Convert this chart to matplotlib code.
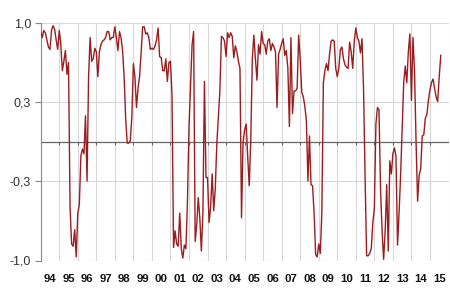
import matplotlib
matplotlib.use("Agg")
import matplotlib.pyplot as plt
import numpy as np

plt.rcParams['font.family'] = ['Liberation Sans', 'DejaVu Sans']

# monthly values, one list per year (Jan..Dec)
y1994 = [0.93, 0.88, 0.94, 0.92, 0.86, 0.80, 0.78, 0.94, 0.98, 0.95, 0.86, 0.78]
y1995 = [0.94, 0.83, 0.60, 0.68, 0.77, 0.57, 0.67, -0.55, -0.86, -0.88, -0.74, -0.97]
y1996 = [-0.60, -0.53, -0.12, -0.06, -0.10, 0.22, -0.33, 0.55, 0.88, 0.68, 0.70, 0.79]
y1997 = [0.76, 0.55, 0.76, 0.82, 0.85, 0.86, 0.88, 0.93, 0.93, 0.86, 0.88, 0.88]
y1998 = [0.97, 0.88, 0.77, 0.93, 0.88, 0.77, 0.55, 0.20, -0.01, -0.01, 0.01, 0.21]
y1999 = [0.66, 0.55, 0.29, 0.45, 0.55, 0.75, 0.97, 0.97, 0.91, 0.92, 0.88, 0.78]
y2000 = [0.79, 0.78, 0.81, 0.86, 0.96, 0.72, 0.71, 0.60, 0.60, 0.70, 0.51, 0.67]
y2001 = [0.68, 0.40, -0.89, -0.75, -0.86, -0.88, -0.60, -0.90, -0.98, -0.87, -0.90, -0.50]
y2002 = [0.12, 0.48, 0.82, 0.93, -0.84, -0.70, -0.47, -0.64, -0.92, -0.60, 0.51, -0.30]
y2003 = [-0.30, -0.68, -0.55, -0.27, -0.58, -0.40, -0.02, 0.20, 0.43, 0.89, 0.88, 0.85]
y2004 = [0.72, 0.92, 0.88, 0.92, 0.89, 0.71, 0.81, 0.76, 0.68, 0.62, -0.64, 0.00]
y2005 = [0.10, 0.15, -0.12, -0.37, 0.02, 0.70, 0.90, 0.70, 0.52, 0.82, 0.74, 0.93]
y2006 = [0.83, 0.82, 0.74, 0.85, 0.87, 0.77, 0.83, 0.80, 0.76, 0.29, 0.74, 0.78]
y2007 = [0.83, 0.87, 0.73, 0.77, 0.62, 0.13, 0.88, 0.24, 0.43, 0.43, 0.45, 0.90]
y2008 = [0.70, 0.42, 0.38, 0.30, 0.18, -0.33, 0.05, -0.36, -0.37, -0.60, -0.95, -0.97]
y2009 = [-0.86, -0.94, -0.60, 0.50, 0.60, 0.66, 0.60, 0.74, 0.85, 0.86, 0.85, 0.62]
y2010 = [0.55, 0.62, 0.78, 0.80, 0.70, 0.65, 0.63, 0.62, 0.84, 0.76, 0.62, 0.85]
y2011 = [0.96, 0.88, 0.85, 0.75, 0.87, 0.45, -0.30, -0.96, -0.96, -0.94, -0.90, -0.68]
y2012 = [-0.56, 0.15, 0.29, 0.27, -0.40, -0.75, -0.99, -0.75, -0.36, -0.92, -0.16, -0.27]
y2013 = [-0.10, -0.05, -0.12, -0.87, -0.60, -0.28, 0.10, 0.50, 0.64, 0.50, 0.76, 0.91]
y2014 = [0.35, 0.88, 0.60, 0.00, -0.50, -0.28, -0.23, 0.05, 0.06, 0.20, 0.23, 0.35]
y2015 = [0.44, 0.50, 0.53, 0.45, 0.38, 0.34, 0.55, 0.73]

years = list(range(1994, 2016))
year_labels = ['94', '95', '96', '97', '98', '99', '00', '01', '02', '03', '04',
               '05', '06', '07', '08', '09', '10', '11', '12', '13', '14', '15']
ytick_vals = [-1.0, -1/3, 1/3, 1.0]
ytick_labels = ['-1,0', '-0,3', '0,3', '1,0']

series = [y1994, y1995, y1996, y1997, y1998, y1999, y2000, y2001, y2002, y2003,
          y2004, y2005, y2006, y2007, y2008, y2009, y2010, y2011, y2012, y2013,
          y2014, y2015]
x, v = [], []
for yr, vals in zip(years, series):
    for i, val in enumerate(vals):
        x.append(yr + i / 12.0)
        v.append(val)

fig = plt.figure(figsize=(4.5, 2.91), dpi=100)
ax = fig.add_axes([40.7/450, 1 - 260.5/291, 407.8/450, 237.2/291])

ax.set_xlim(years[0], years[-1] + 1)
ax.set_ylim(-1, 1)

# grid
ax.set_xticks(years + [years[-1] + 1])
ax.set_xticks([yr + 0.5 for yr in years], minor=True)
ax.set_xticklabels([''] * (len(years) + 1))
ax.set_xticklabels(year_labels, minor=True, fontsize=8.2, fontweight='bold', color='#111111')
ax.tick_params(axis='x', which='both', length=0, pad=10)
ax.grid(axis='x', which='major', color='#d8d8d8', lw=0.8)

ax.set_yticks(ytick_vals)
ax.set_yticklabels(ytick_labels, fontsize=9, color='#333333')
ax.tick_params(axis='y', length=4, width=0.8, color='#888888', pad=3)
ax.grid(axis='y', color='#d8d8d8', lw=0.8)

for s in ['top', 'right', 'bottom']:
    ax.spines[s].set_visible(False)
ax.spines['left'].set_color('#888888')
ax.spines['left'].set_linewidth(0.8)

# zero line with small ticks
ax.axhline(0, color='#666666', lw=0.9, zorder=2)
ax.vlines(years[1:], -0.025, 0, color='#666666', lw=0.8, zorder=2)

ax.plot(x, v, color='#9B1C1F', lw=1.0, zorder=3)

fig.savefig('out.png', dpi=100, facecolor='white')
